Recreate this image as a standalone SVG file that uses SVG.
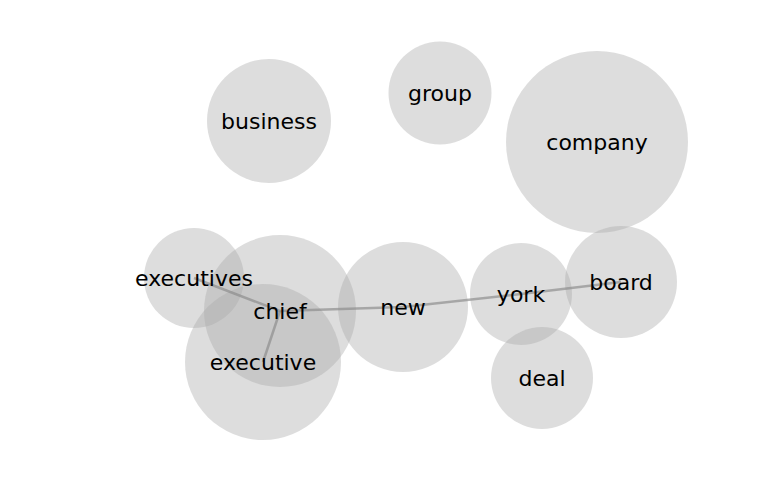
<svg xmlns="http://www.w3.org/2000/svg" width="768" height="500" viewBox="0 0 768 500">
<style>
.n circle{fill:#aaaaaa;fill-opacity:0.4}
.e line{stroke:#888;stroke-opacity:0.65;stroke-width:2.5}
text{font-family:"DejaVu Sans",sans-serif;font-size:22px;fill:#000;text-anchor:middle}
</style>
<rect width="768" height="500" fill="#fff"/>
<g id="circles" class="n">
<circle cx="269" cy="121" r="62"/>
<circle cx="440" cy="93" r="51.5"/>
<circle cx="597" cy="142" r="91"/>
<circle cx="194" cy="278" r="50"/>
<circle cx="280" cy="311" r="76"/>
<circle cx="263" cy="362" r="78"/>
<circle cx="403" cy="307" r="65"/>
<circle cx="521" cy="294" r="51"/>
<circle cx="621" cy="282" r="56"/>
<circle cx="542" cy="378" r="51"/>
</g>
<g id="edges" class="e">
<line x1="194" y1="278" x2="280" y2="311"/>
<line x1="280" y1="311" x2="263" y2="362"/>
<line x1="280" y1="311" x2="403" y2="307"/>
<line x1="403" y1="307" x2="521" y2="294"/>
<line x1="521" y1="294" x2="621" y2="282"/>
</g>
<g id="business"><text x="269" y="129">business</text></g>
<g id="group"><text x="440" y="101">group</text></g>
<g id="company"><text x="597" y="150">company</text></g>
<g id="executives"><text x="194" y="286">executives</text></g>
<g id="chief"><text x="280" y="319">chief</text></g>
<g id="executive"><text x="263" y="370">executive</text></g>
<g id="new"><text x="403" y="315">new</text></g>
<g id="york"><text x="521" y="302">york</text></g>
<g id="board"><text x="621" y="290">board</text></g>
<g id="deal"><text x="542" y="386">deal</text></g>
</svg>
